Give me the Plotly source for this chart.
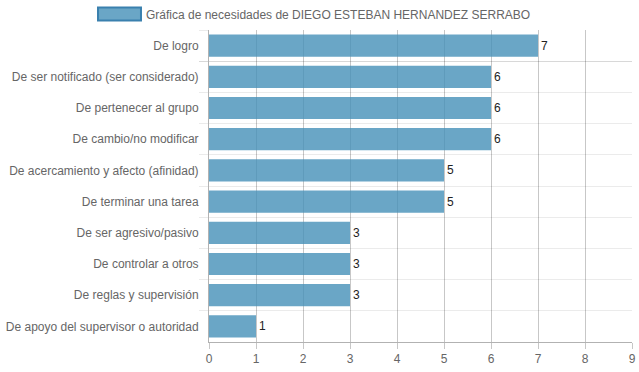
import plotly.graph_objects as go

categories = [
    "De logro",
    "De ser notificado (ser considerado)",
    "De pertenecer al grupo",
    "De cambio/no modificar",
    "De acercamiento y afecto (afinidad)",
    "De terminar una tarea",
    "De ser agresivo/pasivo",
    "De controlar a otros",
    "De reglas y supervisión",
    "De apoyo del supervisor o autoridad",
]
values = [7, 6, 6, 6, 5, 5, 3, 3, 3, 1]
series_name = "Gráfica de necesidades de DIEGO ESTEBAN HERNANDEZ SERRABO"
x_ticks = list(range(0, 10))

bar_fill = "rgba(69,144,184,0.80)"
bar_border = "rgb(58,128,174)"

fig = go.Figure()
fig.add_trace(go.Bar(
    y=categories,
    x=values,
    orientation="h",
    name=series_name,
    showlegend=False,
    marker=dict(color=bar_fill, line=dict(width=0)),
    text=[str(v) for v in values],
    textposition="outside",
    textfont=dict(family="Liberation Sans, Arial", size=12, color="#222"),
    cliponaxis=False,
))

# legend swatch + label (Chart.js style wide box)
fig.add_shape(type="rect", xref="paper", yref="paper",
              x0=-0.2624, x1=-0.1608, y0=1.0305, y1=1.0720,
              fillcolor=bar_fill, line=dict(color=bar_border, width=2))
fig.add_annotation(text=series_name, xref="paper", yref="paper",
                   x=-0.1537, y=1.048, xanchor="left", yanchor="middle",
                   showarrow=False, font=dict(size=12, color="#666"))

fig.update_layout(
    width=639, height=372,
    margin=dict(l=209, r=7, t=30, b=30, autoexpand=False),
    paper_bgcolor="white", plot_bgcolor="white",
    font=dict(family="Liberation Sans, Arial", size=12, color="#666"),
    bargap=0.29,
    showlegend=False,
    xaxis=dict(range=[0, 9], tickvals=x_ticks, showgrid=True,
               gridcolor="rgba(0,0,0,0.22)", gridwidth=1,
               zeroline=False, showline=True, linecolor="rgba(0,0,0,0.3)",
               ticks="outside", ticklen=6, tickcolor="rgba(0,0,0,0.22)",
               tickfont=dict(size=12, color="#666"), fixedrange=True,
               automargin=False),
    yaxis=dict(autorange="reversed", tickson="boundaries", showgrid=True,
               gridcolor="rgba(0,0,0,0.08)", gridwidth=1,
               showline=True, linecolor="rgba(0,0,0,0.3)",
               ticks="outside", ticklen=9, tickcolor="rgba(0,0,0,0.08)",
               ticklabelstandoff=7,
               tickfont=dict(size=12, color="#666"), automargin=False,
               fixedrange=True),
)

fig.write_html("out.html", config={"displayModeBar": False, "staticPlot": True},
               post_script="document.body.style.margin='0';")
